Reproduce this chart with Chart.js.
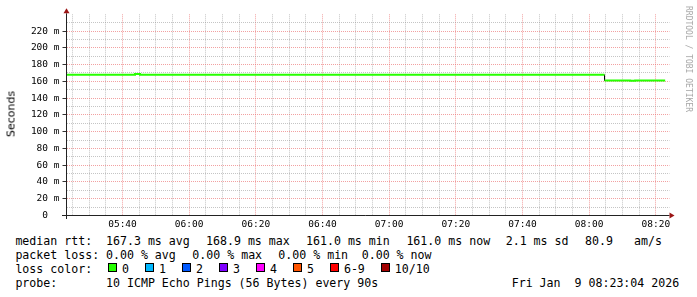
<!DOCTYPE html>
<html><head><meta charset="utf-8">
<script src="https://cdn.jsdelivr.net/npm/chart.js@4/dist/chart.umd.min.js"></script>
<style>
html,body{margin:0;padding:0;background:#fff;width:697px;height:297px;overflow:hidden;}
#wrap{position:relative;width:697px;height:297px;}
#c{position:absolute;left:0;top:0;}
.t{position:absolute;font-family:'DejaVu Sans Mono',monospace;font-size:11.6px;line-height:14px;white-space:pre;color:#000;}
#ylab{position:absolute;left:11.2px;top:114px;transform:translate(-50%,-50%) rotate(-90deg);font-family:'DejaVu Sans',sans-serif;font-size:11px;line-height:11px;white-space:nowrap;color:#000;}
#wm{position:absolute;left:687.5px;top:59px;transform:translate(-50%,-50%) rotate(90deg);font-family:'DejaVu Sans Mono',monospace;font-size:8px;line-height:8px;white-space:pre;color:#a8a8a8;}
#lc{position:absolute;left:108px;top:261.7px;display:flex;align-items:flex-start;}
.it{display:flex;align-items:flex-start;margin-right:16px;}
.sq{width:9px;height:9px;box-sizing:border-box;border:1px solid #000;margin-top:1.3px;}
.lb{margin-left:5px;font-family:'DejaVu Sans Mono',monospace;font-size:11.6px;line-height:14px;white-space:pre;}
</style>
</head><body>
<div id="wrap">
<canvas id="c" width="697" height="232"></canvas>
<div id="ylab">Seconds</div>
<div id="wm">RRDTOOL / TOBI OETIKER</div>
</div>
<script>
// ---- data ----
const xStart = "05:23:12";
const xEnd = "08:24:06";
const xTickLabels = ["05:40","06:00","06:20","06:40","07:00","07:20","07:40","08:00","08:20"];
const yMax = 240;
const yLabelStep = 20;
const upperTimes = ["05:23:12","05:43:45","05:45:15","08:04:36"];
const upperRtt   = [167.8, 168.9, 167.8, 167.8];
const lowerTimes = ["08:04:36","08:12:18","08:13:48","08:22:48"];
const lowerRtt   = [161.0, 160.6, 161.0, 161.0];
const stepTimes  = ["08:04:36","08:04:36"];
const stepRtt    = [167.8, 161.0];
const lossLabels = ["0","1","2","3","4","5","6-9","10/10"];
const lossColors = ["#26ff00","#00b8ff","#0059ff","#7e00ff","#ff00ff","#ff5500","#ff0000","#a10000"];
const rttStats = ["167.3 ms avg","168.9 ms max","161.0 ms min","161.0 ms now","2.1 ms sd","80.9","am/s"];
const lossStats = ["0.00 % avg","0.00 % max","0.00 % min","0.00 % now"];
const probeText = "10 ICMP Echo Pings (56 Bytes) every 90s";
const dateText = "Fri Jan  9 08:23:04 2026";

// ---- helpers ----
function toMin(s){const p=s.split(':').map(Number);return p[0]*60+p[1]+(p[2]||0)/60;}
function pts(ts,vs){return ts.map((t,i)=>({x:toMin(t),y:vs[i]}));}
const xMin = toMin(xStart), xMax = toMin(xEnd);
const majorX = xTickLabels.map(toMin);
function fmtX(v){const i=majorX.findIndex(m=>Math.abs(m-v)<1e-6);return i>=0?xTickLabels[i]:'';}
const isMajorX = v => majorX.some(m=>Math.abs(m-v)<1e-6);

const MAJOR = 'rgba(235,110,110,0.65)';
const MINOR = 'rgba(150,150,150,0.55)';

const axisPlugin = {
  id:'axes',
  afterDatasetsDraw(chart){
    const {ctx, chartArea:a} = chart;
    const y0 = chart.scales.y.getPixelForValue(0);
    const xL = a.left;
    ctx.save();
    ctx.strokeStyle = '#222';
    ctx.lineWidth = 1;
    ctx.beginPath();
    ctx.moveTo(xL-4.5, y0); ctx.lineTo(a.right, y0);
    ctx.moveTo(xL, a.top-1); ctx.lineTo(xL, y0+3.5);
    ctx.stroke();
    ctx.fillStyle = '#9b1515';
    ctx.beginPath();
    ctx.moveTo(xL-3, a.top-1); ctx.lineTo(xL+3, a.top-1); ctx.lineTo(xL, a.top-6); ctx.closePath(); ctx.fill();
    ctx.beginPath();
    ctx.moveTo(a.right, y0-3); ctx.lineTo(a.right, y0+3); ctx.lineTo(a.right+5, y0); ctx.closePath(); ctx.fill();
    ctx.restore();
  }
};

new Chart(document.getElementById('c'), {
  type:'line',
  data:{datasets:[
    {label:'median rtt', data:pts(upperTimes,upperRtt), borderColor:lossColors[0], borderWidth:2, stepped:'before', pointRadius:0, fill:false, borderCapStyle:'butt'},
    {label:'median rtt 2', data:pts(lowerTimes,lowerRtt), borderColor:lossColors[0], borderWidth:2, stepped:'before', pointRadius:0, fill:false, borderCapStyle:'butt'},
    {label:'step', data:pts(stepTimes,stepRtt), borderColor:'#000', borderWidth:1, pointRadius:0, fill:false, borderCapStyle:'butt'}
  ]},
  options:{
    responsive:false, animation:false, devicePixelRatio:1,
    layout:{padding:{left:0,right:27.5,top:14.3,bottom:0}},
    plugins:{legend:{display:false}, tooltip:{enabled:false}},
    scales:{
      x:{type:'linear', min:xMin, max:xMax,
        afterFit(s){s.height=16.5;},
        afterBuildTicks(s){const t=[];for(let v=Math.ceil(xMin/5)*5;v<=xMax+1e-9;v+=5)t.push({value:v});s.ticks=t;},
        ticks:{autoSkip:false, maxRotation:0, minRotation:0, padding:3.5, color:'#000',
          font:{family:'DejaVu Sans Mono', size:9.5}, callback:v=>fmtX(v)},
        grid:{drawTicks:false, lineWidth:1, color:c=>isMajorX(c.tick.value)?MAJOR:MINOR},
        border:{display:false, dash:[1,1]}
      },
      y:{type:'linear', min:0, max:yMax,
        afterFit(s){s.width=66.5;},
        ticks:{stepSize:10, autoSkip:false, padding:3, color:'#000',
          font:{family:'DejaVu Sans Mono', size:9.5},
          callback:v=>{ if(v%yLabelStep!==0||v>=yMax) return ''; return v===0?'0  ':(v+' m'); }},
        grid:{drawTicks:true, tickLength:4, lineWidth:1,
          color:c=>{const v=c.tick.value; if(v===0||v>=yMax) return 'rgba(0,0,0,0)'; return v%yLabelStep===0?MAJOR:MINOR;},
          tickColor:c=>{const v=c.tick.value; return (v%yLabelStep===0&&v<yMax)?'#333':'rgba(0,0,0,0)';}},
        border:{display:false, dash:[1,1]}
      }
    }
  },
  plugins:[axisPlugin]
});

// ---- text legend ----
const wrap = document.getElementById('wrap');
function txt(s,left,top){const d=document.createElement('div');d.className='t';d.textContent=s;d.style.left=left+'px';d.style.top=top+'px';wrap.appendChild(d);}
const rows=[234,248.3,261.7,275.7];
txt('median rtt:',15.4,rows[0]);
const rttLeft=[106,206,306,406.4,505.7,585,634];
rttStats.forEach((s,i)=>txt(s,rttLeft[i],rows[0]));
txt('packet loss:',15.4,rows[1]);
const lossLeft=[106,192.3,278.3,361.7];
lossStats.forEach((s,i)=>txt(s,lossLeft[i],rows[1]));
txt('loss color:',15.4,rows[2]);
const lc=document.createElement('div');lc.id='lc';
lossLabels.forEach((l,i)=>{const it=document.createElement('div');it.className='it';
  const sq=document.createElement('div');sq.className='sq';sq.style.background=lossColors[i];
  const lb=document.createElement('div');lb.className='lb';lb.textContent=l;
  it.appendChild(sq);it.appendChild(lb);lc.appendChild(it);});
wrap.appendChild(lc);
txt('probe:',15.4,rows[3]);
txt(probeText,106,rows[3]);
txt(dateText,511.7,rows[3]);
</script>
</body></html>
